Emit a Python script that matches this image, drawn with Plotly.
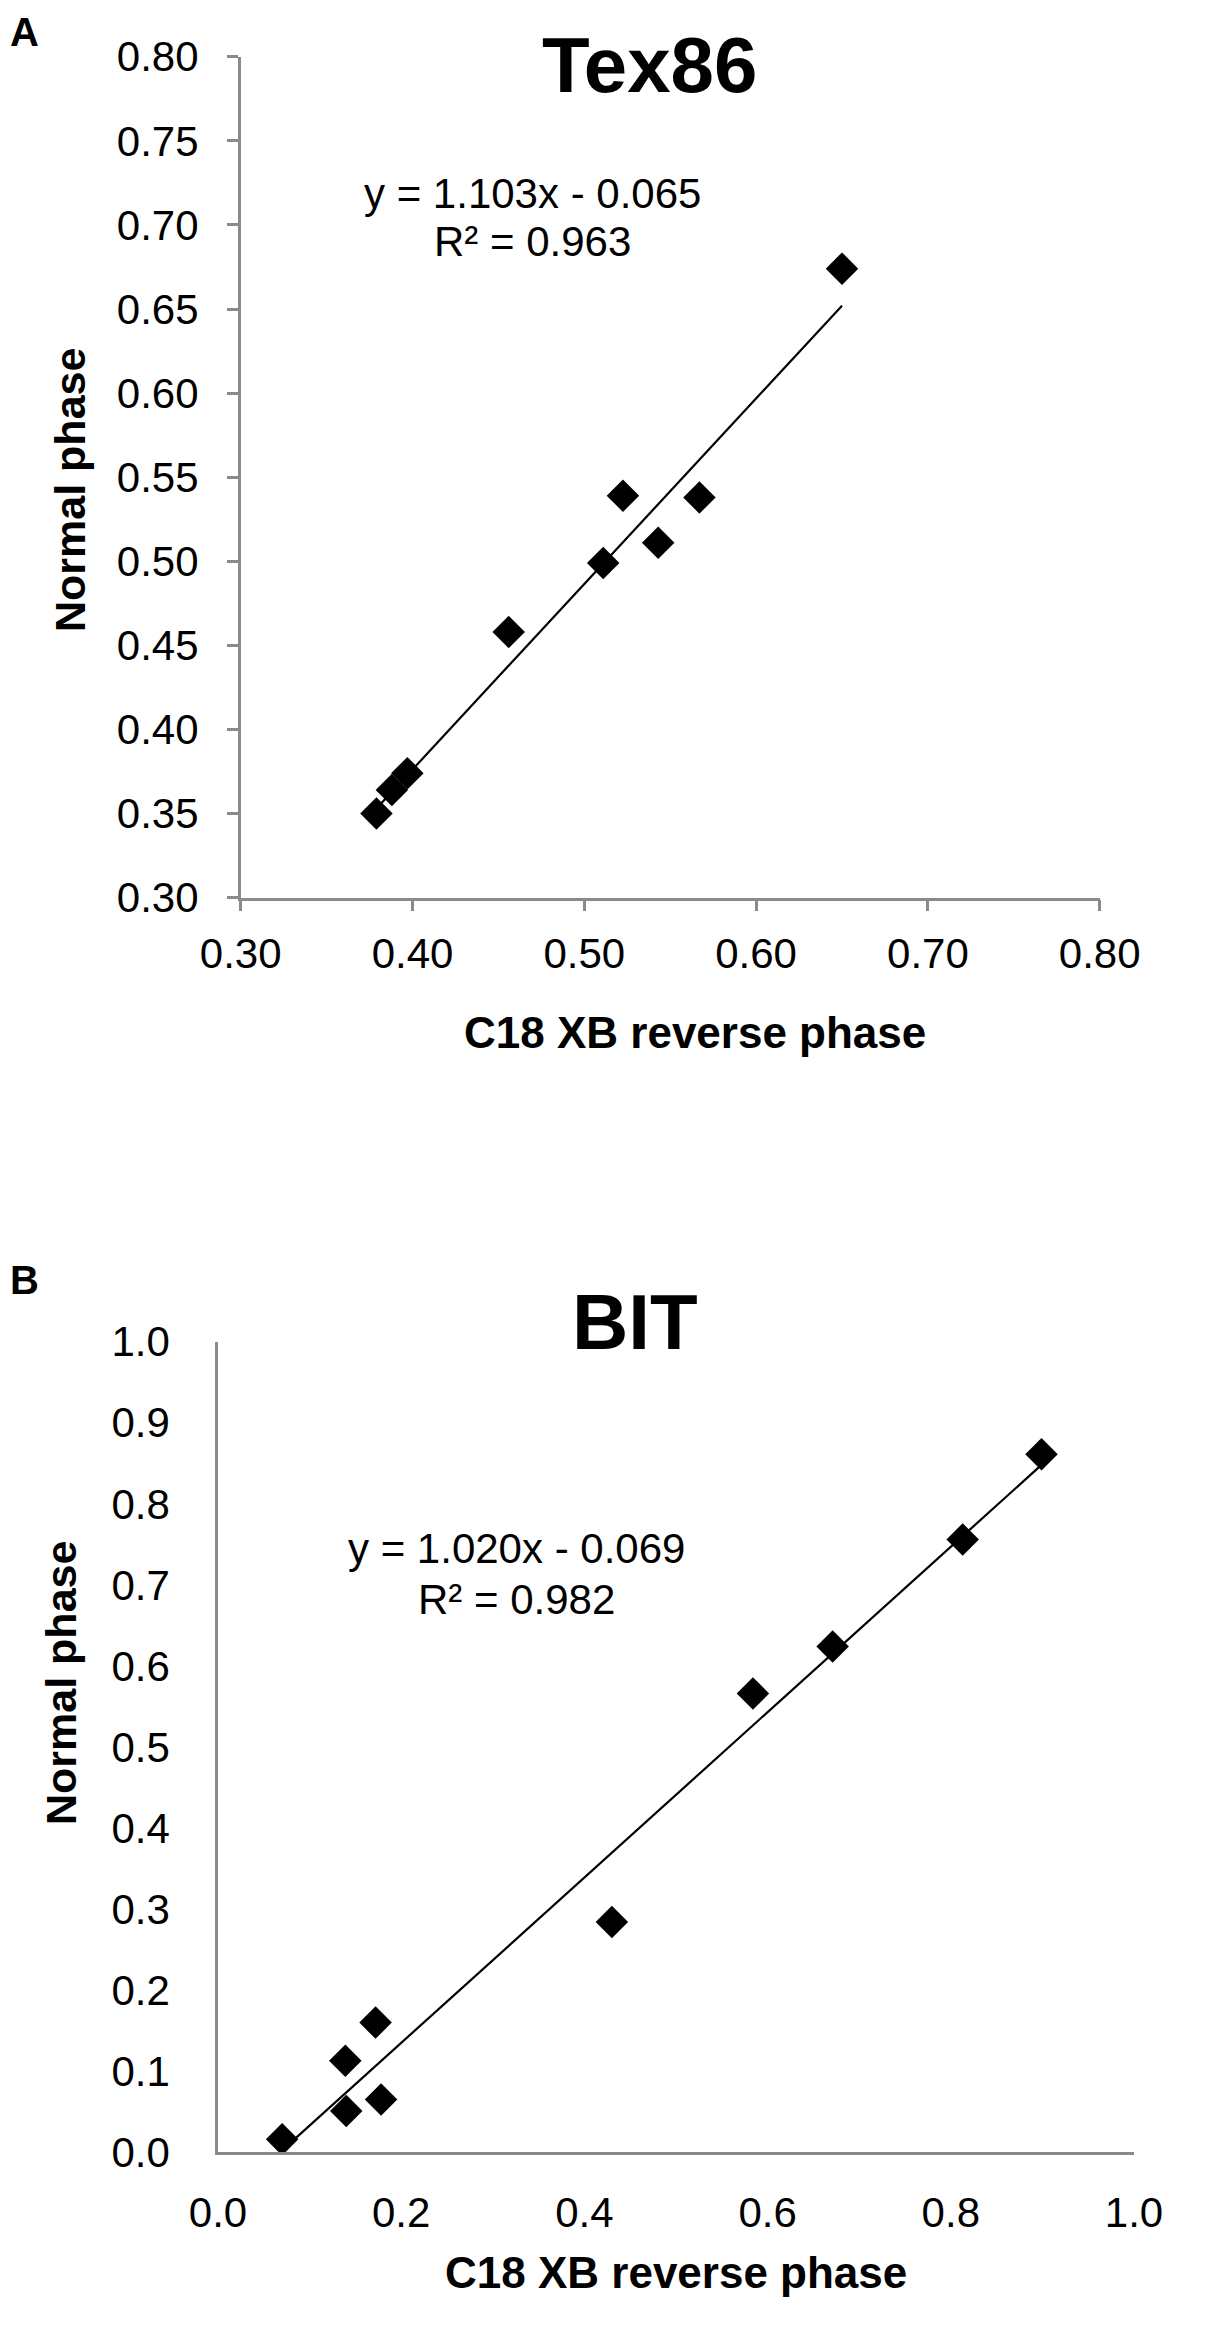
import plotly.graph_objects as go

# ---------------- data ----------------
tex_x = [0.379, 0.388, 0.397, 0.456, 0.511, 0.5225, 0.543, 0.567, 0.650]
tex_y = [0.350, 0.364, 0.374, 0.458, 0.499, 0.539, 0.511, 0.538, 0.674]
tex_slope, tex_intercept = 1.103, -0.065
tex_eq = "y = 1.103x - 0.065"
tex_r2 = "R² = 0.963"

bit_x = [0.070, 0.140, 0.178, 0.139, 0.172, 0.430, 0.584, 0.671, 0.813, 0.899]
bit_y = [0.016, 0.051, 0.065, 0.113, 0.160, 0.284, 0.566, 0.624, 0.756, 0.861]
bit_slope, bit_intercept = 1.020, -0.069
bit_eq = "y = 1.020x - 0.069"
bit_r2 = "R² = 0.982"

titles = ["Tex86", "BIT"]
panel_labels = ["A", "B"]
x_title = "C18 XB reverse phase"
y_title = "Normal phase"

# ---------------- layout helpers ----------------
W, H = 1214, 2347
OFF = 8  # default page body margin
FONT = "Arial, Liberation Sans, Helvetica, sans-serif"
AXIS_GRAY = "#8a8a8a"


def px(x):
    return (x - OFF) / W


def py(y):
    return 1 - (y - OFF) / H


fig = go.Figure()

# markers
fig.add_trace(go.Scatter(x=tex_x, y=tex_y, mode="markers", xaxis="x", yaxis="y",
                         marker=dict(symbol="diamond", size=25, color="black", line=dict(width=0)),
                         showlegend=False))
fig.add_trace(go.Scatter(x=bit_x, y=bit_y, mode="markers", xaxis="x2", yaxis="y2",
                         marker=dict(symbol="diamond", size=25, color="black", line=dict(width=0)),
                         showlegend=False))

# trendlines (from fitted equations over the data range)
tx = [min(tex_x), max(tex_x)]
fig.add_trace(go.Scatter(x=tx, y=[tex_slope * v + tex_intercept for v in tx], mode="lines",
                         xaxis="x", yaxis="y", line=dict(color="black", width=2.2), showlegend=False))
bx = [min(bit_x), max(bit_x)]
fig.add_trace(go.Scatter(x=bx, y=[bit_slope * v + bit_intercept for v in bx], mode="lines",
                         xaxis="x2", yaxis="y2", line=dict(color="black", width=2.2), showlegend=False))

tickfont = dict(family=FONT, size=42, color="black")

common = dict(showgrid=False, zeroline=False, showline=True, linecolor=AXIS_GRAY, linewidth=2.5,
              tickfont=tickfont, fixedrange=True, automargin=False)

fig.update_layout(
    width=W, height=H,
    margin=dict(l=0, r=0, t=0, b=0, autoexpand=False),
    paper_bgcolor="white", plot_bgcolor="white",
    xaxis=dict(domain=[px(240.7), px(1099.7)], range=[0.30, 0.80], anchor="y",
               tickmode="linear", tick0=0.30, dtick=0.10, tickformat=".2f",
               ticks="outside", ticklen=11, tickwidth=2.5, tickcolor=AXIS_GRAY,
               ticklabelstandoff=6, **common),
    yaxis=dict(domain=[py(897.7), py(56.7)], range=[0.30, 0.80], anchor="x",
               tickmode="linear", tick0=0.30, dtick=0.05, tickformat=".2f",
               ticks="outside", ticklen=11, tickwidth=2.5, tickcolor=AXIS_GRAY,
               ticklabelstandoff=20, **common),
    xaxis2=dict(domain=[px(218), px(1134)], range=[0.0, 1.0], anchor="y2",
                tickmode="linear", tick0=0.0, dtick=0.2, tickformat=".1f",
                ticks="", ticklabelstandoff=22, **common),
    yaxis2=dict(domain=[py(2152.3), py(1341.7)], range=[0.0, 1.0], anchor="x2",
                tickmode="linear", tick0=0.0, dtick=0.1, tickformat=".1f",
                ticks="", ticklabelstandoff=37, **common),
)

ann = []


def add_text(text, x, y, size, bold=False, angle=0, xanchor="center", yanchor="middle"):
    ann.append(dict(text=f"<b>{text}</b>" if bold else text, x=px(x), y=py(y),
                    xref="paper", yref="paper", showarrow=False, textangle=angle,
                    xanchor=xanchor, yanchor=yanchor,
                    font=dict(family=FONT, size=size, color="black")))


# panel labels
add_text(panel_labels[0], 8, 8, 40, bold=True, xanchor="left", yanchor="top")
add_text(panel_labels[1], 8, 1280, 40, bold=True, xanchor="left")

# panel titles
add_text(titles[0], 650, 65, 78, bold=True)
add_text(titles[1], 635, 1322, 78, bold=True)

# axis titles
add_text(x_title, 695, 1033, 44, bold=True)
add_text(x_title, 676, 2272, 44, bold=True)
add_text(y_title, 70, 490, 43, bold=True, angle=-90)
add_text(y_title, 61, 1683, 43, bold=True, angle=-90)

# equations
add_text(tex_eq, 532, 194, 42)
add_text(tex_r2, 532, 242, 42)
add_text(bit_eq, 516, 1548, 42)
add_text(bit_r2, 516, 1599, 42)

fig.update_layout(annotations=ann)

fig.write_html("out.html")
